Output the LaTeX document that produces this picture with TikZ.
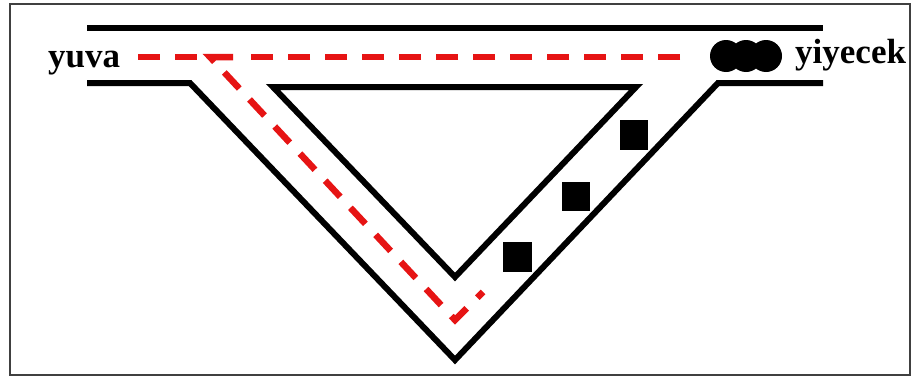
\documentclass[tikz,border=0pt]{standalone}
\usepackage{fontspec}
\setmainfont{Liberation Serif}
\begin{document}
\begin{tikzpicture}[x=1pt,y=-1pt,
  wall/.style={line width=6pt,black,line join=miter},
  trailsolid/.style={line width=6.5pt,draw={rgb,255:red,230;green,20;blue,20}},
  trail/.style={trailsolid,dash pattern=on 22pt off 15pt},
  food/.style={circle,fill=black,minimum size=32pt,inner sep=0pt},
  crumb/.style={fill=black},
  lbl/.style={font=\fontsize{35}{40}\selectfont\bfseries,inner sep=0pt,anchor=base west}]
\useasboundingbox (0,0) rectangle (915,383);
\fill[white] (0,0) rectangle (915,383);
\draw[line width=2pt,black!75] (10,4) rectangle (910,375);
% corridor walls
\draw[wall] (87,28) -- (823,28);
\draw[wall] (87,83) -- (190,83) -- (455,360) -- (718,83) -- (823,83);
\draw[wall] (273,87) -- (636,87) -- (455,277) -- cycle;
% food
\node[food] (f1) at (726,56) {};
\node[food] (f2) at (746,56) {};
\node[food] (f3) at (766,56) {};
% crumbs
\fill[crumb] (503,242) rectangle (532,272);
\fill[crumb] (562,182) rectangle (590,211);
\fill[crumb] (620,120) rectangle (648,150);
% red trail
\coordinate (tA) at (680,57);
\coordinate (tB) at (251,57);
\coordinate (tC) at (233,57);
\coordinate (tK) at (210,57);
\coordinate (tD) at (214.5,61.8);
\coordinate (tE) at (224.3,72.4);
\coordinate (tV) at (455,320);
\coordinate (tF) at (483,292);
\draw[trail] (138,57) -- (205,57);
\draw[trail] (tA) -- (tB);
\draw[trailsolid,line join=miter] (tC) -- (tK) -- (tD);
\draw[trail,line join=miter] (tE) -- (tV) -- (tF);
% labels
\node[lbl] (yuva) at (48,67) {yuva};
\node[lbl] (yiyecek) at (795,63) {yiyecek};
\end{tikzpicture}
\end{document}
